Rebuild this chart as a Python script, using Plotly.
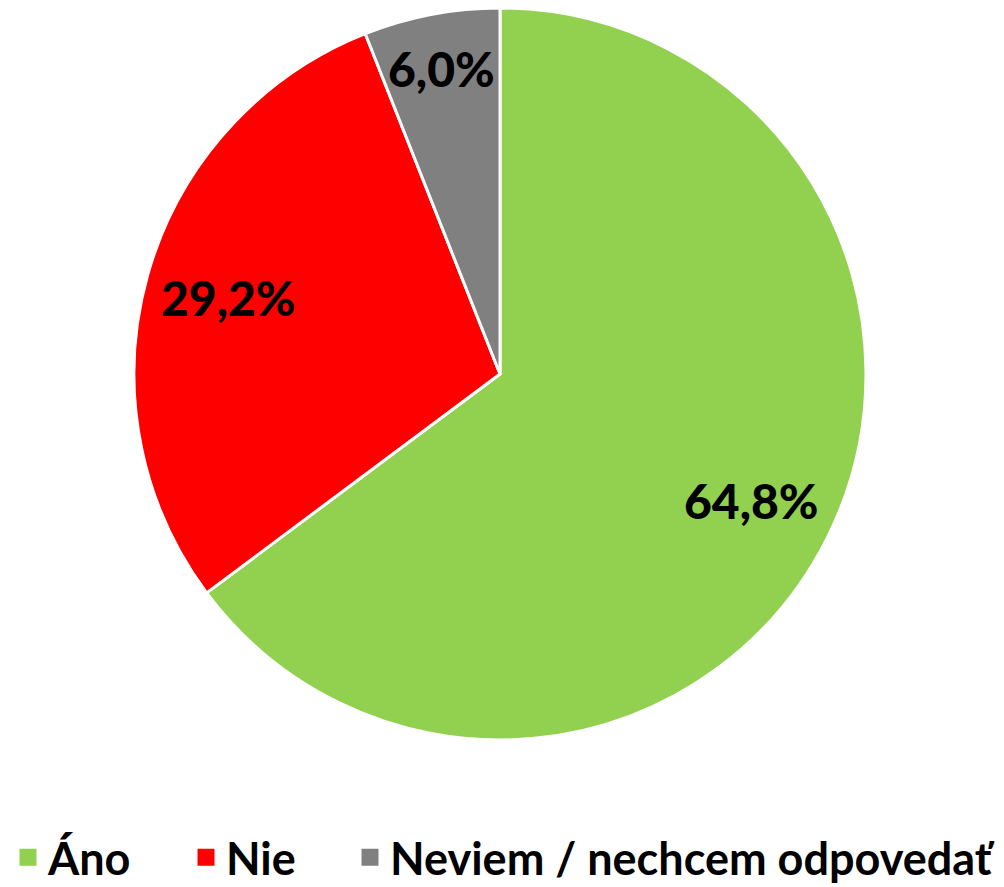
import math
import plotly.graph_objects as go

labels = ["Áno", "Nie", "Neviem / nechcem odpovedať"]
values = [64.8, 29.2, 6.0]
colors = ["#92D050", "#FF0000", "#808080"]
label_texts = ["64,8%", "29,2%", "6,0%"]

# page is offset by the browser's 8px body margin
OFF = 8
W, H = 1004 - OFF, 887 - OFF
cx, cy, r = 500 - OFF, 374 - OFF, 366


def clamp(a):
    return [max(0.0, min(1.0, v)) for v in a]


dom_x = clamp([(cx - r) / W, (cx + r) / W])
dom_y = clamp([(H - (cy + r)) / H, (H - (cy - r)) / H])
r2 = r * 0.4
dom_x2 = clamp([(cx - r2) / W, (cx + r2) / W])
dom_y2 = clamp([(H - (cy + r2)) / H, (H - (cy - r2)) / H])

fig = go.Figure()
# legend-only pies (hidden beneath the main pie), one per legend entry
legend_ids = ["legend", "legend2", "legend3"]
for lab, val, col, lid in zip(labels, values, colors, legend_ids):
    fig.add_trace(go.Pie(
        labels=[lab], values=[val], sort=False,
        marker=dict(colors=[col], line=dict(color=[col], width=10)),
        textinfo="none", hoverinfo="skip", showlegend=True, legend=lid,
        domain=dict(x=dom_x2, y=dom_y2),
    ))
fig.add_trace(go.Pie(
    labels=labels, values=values, sort=False, direction="clockwise", rotation=0,
    marker=dict(colors=colors, line=dict(color="white", width=3)),
    textinfo="none", hoverinfo="label+percent", showlegend=False,
    domain=dict(x=dom_x, y=dom_y),
))

total = sum(values)
start = 0.0
fracs = [0.77, 0.77, 0.85]
for v, t, f in zip(values, label_texts, fracs):
    mid = (start + v / 2) / total * 2 * math.pi
    start += v
    px = cx + f * r * math.sin(mid)
    py = cy - f * r * math.cos(mid)
    fig.add_annotation(x=px / W, y=1 - py / H, xref="paper", yref="paper",
                       text=t, showarrow=False, xanchor="center", yanchor="middle",
                       font=dict(family="Lato", size=48, color="black", weight=900))

leg_font = dict(family="Lato", size=45, color="black", weight="bold")
leg_x = [0, 178, 342]
leg_common = dict(orientation="h", xanchor="left", y=-0.0075, yanchor="bottom",
                  font=leg_font, itemwidth=30, bgcolor="rgba(0,0,0,0)")
fig.update_layout(
    width=W, height=H,
    margin=dict(l=0, r=0, t=0, b=0, autoexpand=False),
    paper_bgcolor="white", plot_bgcolor="white",
    showlegend=True,
    legend=dict(x=leg_x[0] / W, **leg_common),
    legend2=dict(x=leg_x[1] / W, **leg_common),
    legend3=dict(x=leg_x[2] / W, **leg_common),
)
fig.write_html("out.html")
